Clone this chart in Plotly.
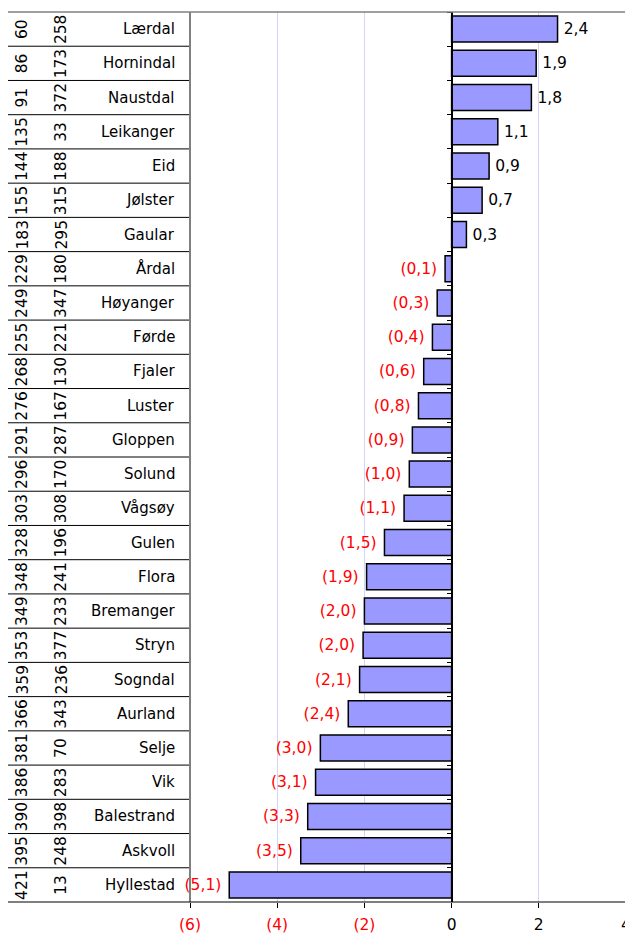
import plotly.graph_objects as go

# ---------------- data ----------------
names = ["Lærdal", "Hornindal", "Naustdal", "Leikanger", "Eid", "Jølster", "Gaular",
         "Årdal", "Høyanger", "Førde", "Fjaler", "Luster", "Gloppen", "Solund",
         "Vågsøy", "Gulen", "Flora", "Bremanger", "Stryn", "Sogndal", "Aurland",
         "Selje", "Vik", "Balestrand", "Askvoll", "Hyllestad"]
rank_a = [60, 86, 91, 135, 144, 155, 183, 229, 249, 255, 268, 276, 291, 296, 303,
          328, 348, 349, 353, 359, 366, 381, 386, 390, 395, 421]
rank_b = [258, 173, 372, 33, 188, 315, 295, 180, 347, 221, 130, 167, 287, 170, 308,
          196, 241, 233, 377, 236, 343, 70, 283, 398, 248, 13]
values = [2.43, 1.94, 1.83, 1.06, 0.86, 0.70, 0.34, -0.15, -0.33, -0.44, -0.64,
          -0.76, -0.90, -0.97, -1.09, -1.54, -1.95, -2.00, -2.03, -2.11, -2.37,
          -3.01, -3.12, -3.30, -3.46, -5.10]
tick_vals = [-6, -4, -2, 0, 2, 4]

# ---------------- helpers ----------------
W, H = 625, 935
TOP, BOTTOM = 12, 902
PLOT_LEFT = 190
PX_PER_UNIT = 43.6
XMIN = -6
XMAX = XMIN + (W - PLOT_LEFT) / PX_PER_UNIT
FONT = "DejaVu Sans"
RED = "#ff0000"


def fmt(v, d=1):
    s = f"{abs(v):.{d}f}".replace(".", ",")
    return f"({s})" if v < 0 else s


def px(x):
    return x / W


def x_to_paper(v):
    return px(PLOT_LEFT) + (v - XMIN) / (XMAX - XMIN) * (1 - px(PLOT_LEFT))


bar_text = [("\u2009" + fmt(v)) if v >= 0 else (fmt(v) + " ") for v in values]
bar_colors = ["black" if v >= 0 else RED for v in values]
tick_text = [f'<span style="color:{RED if t < 0 else "black"}">{fmt(t, 0)}</span>'
             for t in tick_vals]

fig = go.Figure()
fig.add_trace(go.Bar(
    y=names, x=values, orientation="h", width=0.76,
    marker=dict(color="#9999ff", line=dict(color="black", width=1.5)),
    text=bar_text, textposition="outside", cliponaxis=False, constraintext="none",
    textfont=dict(family=FONT, size=15.5, color=bar_colors),
    hoverinfo="skip", showlegend=False,
))

annotations = []
for i, n in enumerate(names):
    annotations.append(dict(x=px(22), y=n, xref="paper", yref="y", text=str(rank_a[i]),
                            textangle=-90, showarrow=False, xanchor="center", yanchor="middle",
                            font=dict(family=FONT, size=15.5, color="black")))
    annotations.append(dict(x=px(61), y=n, xref="paper", yref="y", text=str(rank_b[i]),
                            textangle=-90, showarrow=False, xanchor="center", yanchor="middle",
                            font=dict(family=FONT, size=15.5, color="black")))
    annotations.append(dict(x=px(177), y=n, xref="paper", yref="y", text=n,
                            showarrow=False, xanchor="right", yanchor="middle",
                            font=dict(family=FONT, size=15, color="black")))

# tick label beyond the visible range (cut off by the page edge)
for t, tt in zip(tick_vals, tick_text):
    if t > XMAX:
        annotations.append(dict(x=x_to_paper(t), y=0, xref="paper", yref="paper", text=tt,
                                showarrow=False, xanchor="center", yanchor="top", yshift=-12,
                                font=dict(family=FONT, size=15.5, color="black")))

shapes = []
for i in range(1, len(names)):
    shapes.append(dict(type="line", xref="paper", yref="y", x0=px(8), x1=px(PLOT_LEFT),
                       y0=i - 0.5, y1=i - 0.5, line=dict(color="black", width=1)))
shapes.append(dict(type="line", xref="paper", yref="paper", x0=px(8), x1=1, y0=1, y1=1,
                   line=dict(color="#808080", width=1.5)))
shapes.append(dict(type="line", xref="paper", yref="paper", x0=px(PLOT_LEFT), x1=px(PLOT_LEFT),
                   y0=0, y1=1, line=dict(color="#808080", width=2)))
shapes.append(dict(type="line", xref="paper", yref="paper", x0=px(8), x1=1, y0=0, y1=0,
                   line=dict(color="black", width=1.2)))

fig.update_layout(
    template="none",
    width=W, height=H, autosize=False,
    margin=dict(l=0, r=0, t=TOP, b=H - BOTTOM, pad=0, autoexpand=False),
    paper_bgcolor="white", plot_bgcolor="white",
    showlegend=False,
    font=dict(family=FONT, size=15, color="black"),
    xaxis=dict(domain=[px(PLOT_LEFT), 1], range=[XMIN, XMAX], tickvals=tick_vals,
               ticktext=tick_text, showgrid=True, gridcolor="#d4d4f8", gridwidth=1,
               zeroline=False, ticks="outside", ticklen=5, tickcolor="black",
               tickfont=dict(family=FONT, size=15.5), ticklabelstandoff=3,
               showline=False, fixedrange=True, automargin=False),
    yaxis=dict(autorange="reversed", anchor="free", position=x_to_paper(0), showline=True,
               linecolor="black", linewidth=1.5, ticks="outside", ticklen=4,
               tickcolor="black", tickson="boundaries", showticklabels=False,
               showgrid=False, zeroline=False, fixedrange=True, automargin=False),
    bargap=0.24,
    annotations=annotations,
    shapes=shapes,
)

fig.write_html("out.html", config={"responsive": False, "displayModeBar": False},
               post_script="document.body.style.margin='0';document.body.style.overflow='hidden';")
